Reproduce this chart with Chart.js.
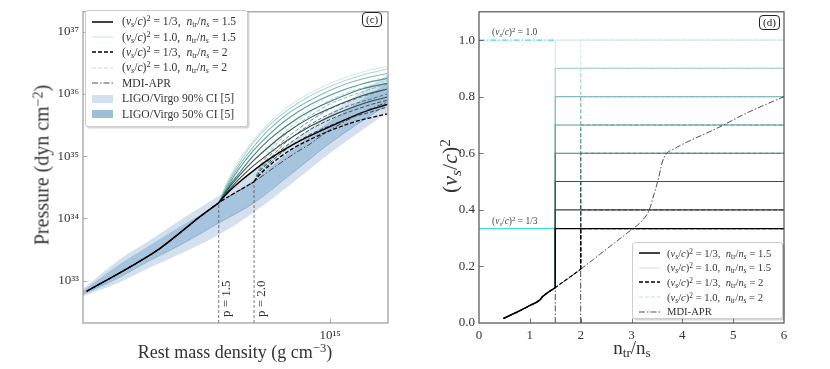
<!DOCTYPE html>
<html>
<head>
<meta charset="utf-8">
<title>EOS panels (c) and (d)</title>
<script src="https://cdn.jsdelivr.net/npm/chart.js@4.4.1/dist/chart.umd.min.js"></script>
<style>
  html, body { margin: 0; padding: 0; background: #fff; }
  #figure { position: relative; width: 830px; height: 369px; overflow: hidden;
            font-family: 'Liberation Serif', 'DejaVu Serif', serif; color: #333; }
  #figure canvas { position: absolute; top: 0; }
  .title { position: absolute; white-space: nowrap; transform: translate(-50%, -50%); }
  .title.vertical { transform: translate(-50%, -50%) rotate(-90deg); }
  .legend { position: absolute; background: #fff; border: 1px solid #cdcdcd; border-radius: 3px;
            box-shadow: 1.5px 1.5px 0 rgba(0,0,0,0.16); box-sizing: border-box; }
  .legend .row { display: flex; align-items: center; white-space: nowrap; }
  .legend svg { flex: none; }
  .tag { position: absolute; border: 1px solid #222; border-radius: 4px; font-size: 11px;
         line-height: 13px; padding: 0 3px; background: #fff; color: #222; }
  .note { position: absolute; white-space: nowrap; font-size: 9.5px; line-height: 10px; color: #444; }
  sub, sup { font-size: 70%; line-height: 0; }
  sup { vertical-align: 0.45em; }
  sub { vertical-align: -0.25em; }
</style>
</head>
<body>
<div id="figure">
  <canvas id="eos" width="415" height="369" style="left:0"></canvas>
  <canvas id="sound" width="415" height="369" style="left:415px"></canvas>
</div>
<script>
// ---------- panel (c): pressure vs rest mass density ----------
// pressures are kept as log10(P / dyn cm^-2)
const densityRange = [1.31e14, 1.61e15];
const pressureExpRange = [32.32, 37.32];
const soundSpeedSq = [1/3, 0.4, 0.5, 0.6, 0.7, 0.8, 0.9, 1.0];
const transitionRatios = [1.5, 2.0];

const aprDensity = [1.35e14, 1.98e14, 2.47e14, 3.16e14, 3.32e14, 4.0e14, 5.35e14, 6.5e14, 7.5e14, 8.5e14, 9.5e14, 1.1e15, 1.3e15, 1.6e15];
const aprLogP    = [32.83, 33.25, 33.52, 33.90, 33.98, 34.25, 34.59, 34.86, 35.05, 35.20, 35.36, 35.53, 35.70, 35.87];

// n_tr/n_s = 1.5, one row per entry of soundSpeedSq
const fanDensity15 = [4.0e14, 4.3e14, 4.7e14, 5.3e14, 6.0e14, 7.0e14, 8.5e14, 1.05e15, 1.3e15, 1.6e15];
const fanLogP15 = [
  [34.25, 34.41, 34.57, 34.76, 34.94, 35.13, 35.33, 35.52, 35.70, 35.83],
  [34.25, 34.43, 34.62, 34.84, 35.03, 35.25, 35.48, 35.68, 35.84, 35.95],
  [34.25, 34.46, 34.67, 34.92, 35.14, 35.38, 35.62, 35.81, 35.97, 36.08],
  [34.25, 34.48, 34.71, 35.00, 35.25, 35.49, 35.73, 35.92, 36.08, 36.17],
  [34.25, 34.51, 34.78, 35.08, 35.33, 35.59, 35.83, 36.02, 36.16, 36.25],
  [34.25, 34.54, 34.83, 35.14, 35.41, 35.67, 35.90, 36.10, 36.24, 36.33],
  [34.25, 34.57, 34.87, 35.21, 35.48, 35.73, 35.97, 36.16, 36.30, 36.40],
  [34.25, 34.60, 34.92, 35.25, 35.52, 35.78, 36.02, 36.21, 36.35, 36.44]
];

// n_tr/n_s = 2, one row per entry of soundSpeedSq
const fanDensity20 = [5.35e14, 5.6e14, 6.0e14, 6.6e14, 7.4e14, 8.5e14, 1.0e15, 1.2e15, 1.4e15, 1.6e15];
const fanLogP20 = [
  [34.59, 34.70, 34.83, 34.98, 35.13, 35.27, 35.41, 35.54, 35.62, 35.68],
  [34.59, 34.71, 34.86, 35.03, 35.19, 35.35, 35.49, 35.63, 35.71, 35.79],
  [34.59, 34.75, 34.89, 35.08, 35.25, 35.43, 35.59, 35.73, 35.83, 35.90],
  [34.59, 34.76, 34.92, 35.13, 35.32, 35.51, 35.68, 35.83, 35.92, 36.00],
  [34.59, 34.78, 34.97, 35.19, 35.38, 35.57, 35.76, 35.90, 36.00, 36.08],
  [34.59, 34.81, 35.02, 35.25, 35.46, 35.65, 35.84, 35.98, 36.08, 36.16],
  [34.59, 34.83, 35.05, 35.30, 35.51, 35.71, 35.90, 36.05, 36.14, 36.22],
  [34.59, 34.86, 35.10, 35.35, 35.57, 35.78, 35.97, 36.11, 36.21, 36.29]
];

// LIGO/Virgo credible bands
const bandDensity = [1.31e14, 1.78e14, 2.22e14, 2.91e14, 4.05e14, 5.35e14, 7.2e14, 1.0e15, 1.61e15];
const ci90Upper = [32.87, 33.35, 33.62, 33.97, 34.38, 34.76, 35.21, 35.68, 36.32];
const ci90Lower = [32.75, 32.98, 33.19, 33.43, 33.75, 34.10, 34.54, 35.05, 35.71];
const ci50Upper = [32.84, 33.27, 33.54, 33.87, 34.25, 34.62, 35.08, 35.56, 36.19];
const ci50Lower = [32.78, 33.06, 33.30, 33.57, 33.94, 34.25, 34.70, 35.21, 35.84];

// ---------- panel (d): squared sound speed vs n/n_s ----------
const ratioRange = [0, 6];
const cs2Range = [0, 1.1];
const mdiRatio = [0.48, 0.8, 1.0, 1.2, 1.25, 1.5, 2.0, 2.5, 3.0, 3.2, 3.35, 3.45, 3.53, 3.6, 3.68, 3.8, 4.7, 5.3, 6.0];
const mdiCs2   = [0.016, 0.043, 0.062, 0.082, 0.093, 0.125, 0.19, 0.26, 0.33, 0.36, 0.40, 0.46, 0.51, 0.565, 0.597, 0.612, 0.69, 0.745, 0.80];
const mdiCs2AtTransition = [0.125, 0.19];
const referenceCs2 = [1.0, 1/3];

// ---------- styles ----------
const FONT = "'Liberation Serif', 'DejaVu Serif', serif";
Chart.defaults.font.family = FONT;
const stepColors = ['#000000', '#3a4545', '#2d5959', '#447d7d', '#5e9d9d', '#86bcbc', '#aed5d5', '#d3eaea'];
const band90Color = 'rgb(212,224,238)';
const band50Color = 'rgb(166,196,222)';
const cyan = '#3fdde6';
const solidStyle = (color, w) => ({ borderColor: color, borderWidth: w || 1.1 });
const dashedStyle = (color, w) => ({ borderColor: color, borderWidth: w || 1.1, borderDash: [4, 2] });
const dashDotStyle = { borderColor: '#3a3a3a', borderWidth: 0.9, borderDash: [6, 2, 1.5, 2] };
const markerStyle = { borderColor: '#555', borderWidth: 0.8, borderDash: [3, 2] };

const SUP = { '0': '⁰', '1': '¹', '2': '²', '3': '³', '4': '⁴', '5': '⁵', '6': '⁶', '7': '⁷', '8': '⁸', '9': '⁹', '-': '⁻' };
const pow10Label = v => '10' + String(Math.round(Math.log10(v))).split('').map(c => SUP[c]).join('');

function line(data, style, extra) {
  return Object.assign({ data, pointRadius: 0, borderWidth: 1, fill: false,
                         cubicInterpolationMode: 'monotone' }, style, extra);
}
// first pushed = drawn at the back
function stack(list) {
  return list.map((d, i) => Object.assign(d, { order: list.length - i }));
}
const logPts = (xs, es) => xs.map((x, i) => ({ x, y: Math.pow(10, es[i]) }));
const pts = (xs, ys) => xs.map((x, i) => ({ x, y: ys[i] }));

function logTicks(lo, hi) {
  const out = [];
  for (let e = Math.floor(Math.log10(lo)); e <= Math.ceil(Math.log10(hi)); e++)
    for (let k = 1; k <= 9; k++) {
      const v = k * Math.pow(10, e);
      if (v >= lo && v <= hi) out.push({ value: v, major: k === 1 });
    }
  return out;
}
function linTicks(lo, hi, major, minor) {
  const out = [];
  const n = Math.round((hi - lo) / minor);
  for (let i = 0; i <= n; i++) {
    const v = +(lo + i * minor).toFixed(6);
    out.push({ value: v, major: Math.abs(v / major - Math.round(v / major)) < 1e-6 });
  }
  return out;
}

// frame on all four sides, inward ticks on left and bottom
function frameTicks(color) {
  return {
    id: 'frameTicks',
    afterDatasetsDraw(chart) {
      const { ctx, chartArea: a } = chart;
      ctx.save();
      ctx.strokeStyle = color;
      ctx.lineWidth = 0.8;
      ctx.beginPath();
      const xs = chart.scales.x, ys = chart.scales.y;
      xs.ticks.forEach(t => {
        const p = Math.round(xs.getPixelForValue(t.value)) + 0.5;
        if (p <= a.left + 1 || p >= a.right - 1) return;
        ctx.moveTo(p, a.bottom); ctx.lineTo(p, a.bottom - (t.major ? 4.5 : 2.5));
      });
      ys.ticks.forEach(t => {
        const p = Math.round(ys.getPixelForValue(t.value)) + 0.5;
        if (p <= a.top + 1 || p >= a.bottom - 1) return;
        ctx.moveTo(a.left, p); ctx.lineTo(a.left + (t.major ? 4.5 : 2.5), p);
      });
      ctx.stroke();
      ctx.lineWidth = 1.2;
      ctx.strokeRect(a.left, a.top, a.right - a.left, a.bottom - a.top);
      ctx.restore();
    }
  };
}

function transitionLabels(items) {
  return {
    id: 'transitionLabels',
    afterDatasetsDraw(chart) {
      const { ctx, chartArea } = chart;
      ctx.save();
      ctx.font = '13px ' + FONT;
      ctx.fillStyle = '#333';
      ctx.textAlign = 'left';
      ctx.textBaseline = 'top';
      items.forEach(({ value, text }) => {
        const x = chart.scales.x.getPixelForValue(value);
        ctx.save();
        ctx.translate(x + 1.5, chartArea.bottom - 6);
        ctx.rotate(-Math.PI / 2);
        ctx.fillText(text, 0, 0);
        ctx.restore();
      });
      ctx.restore();
    }
  };
}

const tickFont = { family: FONT, size: 13 };
const baseOptions = (padding) => ({
  responsive: false, animation: false, events: [],
  layout: { padding },
  plugins: { legend: { display: false }, tooltip: { enabled: false } }
});
const axisCommon = { grid: { display: false, drawTicks: false }, border: { display: false } };

// ---------- panel (c) datasets ----------
const eosList = [];
eosList.push(line(logPts(bandDensity, ci90Upper), { borderColor: 'transparent', borderWidth: 0 }, { fill: '+1', backgroundColor: band90Color }));
eosList.push(line(logPts(bandDensity, ci90Lower), { borderColor: 'transparent', borderWidth: 0 }));
eosList.push(line(logPts(bandDensity, ci50Upper), { borderColor: 'transparent', borderWidth: 0 }, { fill: '+1', backgroundColor: band50Color }));
eosList.push(line(logPts(bandDensity, ci50Lower), { borderColor: 'rgba(70,120,170,0.45)', borderWidth: 0.7 }));

[[fanDensity15, fanLogP15], [fanDensity20, fanLogP20]].forEach(([dens, logP]) => {
  eosList.push(line([{ x: dens[0], y: Math.pow(10, pressureExpRange[0]) }, { x: dens[0], y: Math.pow(10, logP[0][0]) }],
                    markerStyle, { cubicInterpolationMode: 'default', tension: 0 }));
});
for (let i = soundSpeedSq.length - 1; i >= 0; i--)
  eosList.push(line(logPts(fanDensity20, fanLogP20[i]), dashedStyle(stepColors[i], i === 0 ? 1.3 : 1)));
for (let i = soundSpeedSq.length - 1; i >= 0; i--)
  eosList.push(line(logPts(fanDensity15, fanLogP15[i]), solidStyle(stepColors[i], i === 0 ? 1.4 : 1.1)));
eosList.push(line(logPts(aprDensity, aprLogP), dashDotStyle));
const lowDashed = aprDensity.map((x, i) => ({ x, y: Math.pow(10, aprLogP[i]) })).filter(p => p.x <= fanDensity20[0]);
const lowSolid = lowDashed.filter(p => p.x <= fanDensity15[0]);
eosList.push(line(lowDashed, dashedStyle('#000', 1.2)));
eosList.push(line(lowSolid, solidStyle('#000', 1.6)));

const eosChart = new Chart(document.getElementById('eos'), {
  type: 'line',
  data: { datasets: stack(eosList) },
  options: Object.assign(baseOptions({ left: 33, right: 27, top: 7, bottom: 0 }), {
    scales: {
      x: Object.assign({}, axisCommon, {
        type: 'logarithmic', min: densityRange[0], max: densityRange[1],
        afterBuildTicks: s => { s.ticks = logTicks(densityRange[0], densityRange[1]); },
        afterFit: s => { s.height = 46; },
        ticks: { autoSkip: false, maxRotation: 0, padding: 5, font: tickFont, color: '#333',
                 callback: (v, i, t) => t[i].major ? pow10Label(v) : null }
      }),
      y: Object.assign({}, axisCommon, {
        type: 'logarithmic', min: Math.pow(10, pressureExpRange[0]), max: Math.pow(10, pressureExpRange[1]),
        afterBuildTicks: s => { s.ticks = logTicks(s.min, s.max); },
        afterFit: s => { s.width = 50; },
        ticks: { autoSkip: false, padding: 4, font: tickFont, color: '#333',
                 callback: (v, i, t) => t[i].major ? pow10Label(v) : null }
      })
    }
  }),
  plugins: [frameTicks('#9a9a9a'), transitionLabels([
    { value: fanDensity15[0], text: 'p = ' + transitionRatios[0].toFixed(1) },
    { value: fanDensity20[0], text: 'p = ' + transitionRatios[1].toFixed(1) }
  ])]
});

// ---------- panel (d) datasets ----------
const soundList = [];
transitionRatios.forEach((r, k) => {
  soundList.push(line([{ x: r, y: 0 }, { x: r, y: mdiCs2AtTransition[k] }], dashDotStyle, { cubicInterpolationMode: 'default', tension: 0 }));
});
soundList.push(line([{ x: ratioRange[0], y: referenceCs2[0] }, { x: transitionRatios[0], y: referenceCs2[0] }],
                    { borderColor: cyan, borderWidth: 1.3, borderDash: [6, 2, 1.5, 2] }));
soundList.push(line([{ x: ratioRange[0], y: referenceCs2[1] }, { x: transitionRatios[0], y: referenceCs2[1] }],
                    solidStyle(cyan, 1.2)));
[[1, dashedStyle], [0, solidStyle]].forEach(([k, styleFn]) => {
  for (let i = soundSpeedSq.length - 1; i >= 0; i--) {
    const r = transitionRatios[k];
    soundList.push(line([{ x: r, y: mdiCs2AtTransition[k] }, { x: r, y: soundSpeedSq[i] }, { x: ratioRange[1], y: soundSpeedSq[i] }],
                        styleFn(stepColors[i], i === 0 ? 1.3 : 1.1), { cubicInterpolationMode: 'default', tension: 0 }));
  }
});
soundList.push(line(pts(mdiRatio, mdiCs2), dashDotStyle));
const mdiLowDashed = pts(mdiRatio, mdiCs2).filter(p => p.x <= transitionRatios[1]);
soundList.push(line(mdiLowDashed, dashedStyle('#000', 1.2)));
soundList.push(line(mdiLowDashed.filter(p => p.x <= transitionRatios[0]), solidStyle('#000', 1.6)));

const soundChart = new Chart(document.getElementById('sound'), {
  type: 'line',
  data: { datasets: stack(soundList) },
  options: Object.assign(baseOptions({ left: 24, right: 46, top: 7, bottom: 0 }), {
    scales: {
      x: Object.assign({}, axisCommon, {
        type: 'linear', min: ratioRange[0], max: ratioRange[1],
        afterBuildTicks: s => { s.ticks = linTicks(ratioRange[0], ratioRange[1], 1, 0.2); },
        afterFit: s => { s.height = 46; },
        ticks: { autoSkip: false, maxRotation: 0, padding: 5, font: tickFont, color: '#333',
                 callback: (v, i, t) => t[i].major ? String(Math.round(v)) : null }
      }),
      y: Object.assign({}, axisCommon, {
        type: 'linear', min: cs2Range[0], max: cs2Range[1],
        afterBuildTicks: s => { s.ticks = linTicks(cs2Range[0], cs2Range[1], 0.2, 0.05); },
        afterFit: s => { s.width = 40; },
        ticks: { autoSkip: false, padding: 4, font: tickFont, color: '#333',
                 callback: (v, i, t) => t[i].major ? v.toFixed(1) : null }
      })
    }
  }),
  plugins: [frameTicks('#505050')]
});

// ---------- text overlays (real HTML text with sub/superscripts) ----------
const fig = document.getElementById('figure');
const vsHtml = '(<i>v</i><sub><i>s</i></sub>/<i>c</i>)<sup>2</sup>';
const ntrHtml = '<i>n</i><sub>tr</sub>/<i>n</i><sub><i>s</i></sub>';
const legendLabel = (cs, r) => `${vsHtml} = ${cs},&nbsp; ${ntrHtml} = ${r}`;

function add(html, cls, css) {
  const el = document.createElement('div');
  el.className = cls;
  el.innerHTML = html;
  Object.assign(el.style, css);
  fig.appendChild(el);
  return el;
}
function swatch(item) {
  if (item.patch) return `<svg width="21" height="10"><rect x="0" y="1" width="21" height="8" fill="${item.patch}"/></svg>`;
  const s = item.style;
  const dash = s.borderDash ? ` stroke-dasharray="${s.borderDash.join(' ')}"` : '';
  return `<svg width="21" height="10"><line x1="0" y1="5" x2="21" y2="5" stroke="${s.borderColor}" stroke-width="${s.borderWidth}"${dash}/></svg>`;
}
function legend(items, css, fontSize, rowH, gap) {
  const rows = items.map(it =>
    `<div class="row" style="height:${rowH}px">${swatch(it)}<span style="margin-left:${gap}px">${it.html}</span></div>`).join('');
  return add(rows, 'legend', Object.assign({ fontSize: fontSize + 'px', padding: '3px 0 0 6px' }, css));
}

const lineItems = [
  { html: legendLabel('1/3', transitionRatios[0]), style: solidStyle('#000', 1.5) },
  { html: legendLabel('1.0', transitionRatios[0]), style: solidStyle(stepColors[7], 1.3) },
  { html: legendLabel('1/3', 2), style: dashedStyle('#000', 1.5) },
  { html: legendLabel('1.0', 2), style: dashedStyle(stepColors[7], 1.3) },
  { html: 'MDI-APR', style: dashDotStyle }
];
legend(lineItems.concat([
  { html: 'LIGO/Virgo 90% CI [5]', patch: band90Color },
  { html: 'LIGO/Virgo 50% CI [5]', patch: 'rgb(158,189,217)' }
]), { left: '85px', top: '10px', width: '163px', height: '117px' }, 11.6, 15.4, 9);
legend(lineItems, { left: '632px', top: '242px', width: '151px', height: '77px' }, 10.6, 14.6, 7);

add('Pressure (dyn cm<sup>−2</sup>)', 'title vertical', { left: '42px', top: '165px', fontSize: '20px' });
add('Rest mass density (g cm<sup>−3</sup>)', 'title', { left: '235px', top: '352px', fontSize: '18px' });
add(vsHtml, 'title vertical', { left: '450px', top: '166px', fontSize: '22px' });
add('n<sub>tr</sub>/n<sub>s</sub>', 'title', { left: '632px', top: '348px', fontSize: '19px' });

add('(c)', 'tag', { left: '362px', top: '12px' });
add('(d)', 'tag', { left: '759px', top: '15px' });

const area = soundChart.chartArea;
const ys = soundChart.scales.y;
add(vsHtml + ' = 1.0', 'note', { left: (415 + area.left + 13) + 'px', top: (ys.getPixelForValue(referenceCs2[0]) - 13) + 'px' });
add(vsHtml + ' = 1/3', 'note', { left: (415 + area.left + 13) + 'px', top: (ys.getPixelForValue(referenceCs2[1]) - 13) + 'px' });
</script>
</body>
</html>
